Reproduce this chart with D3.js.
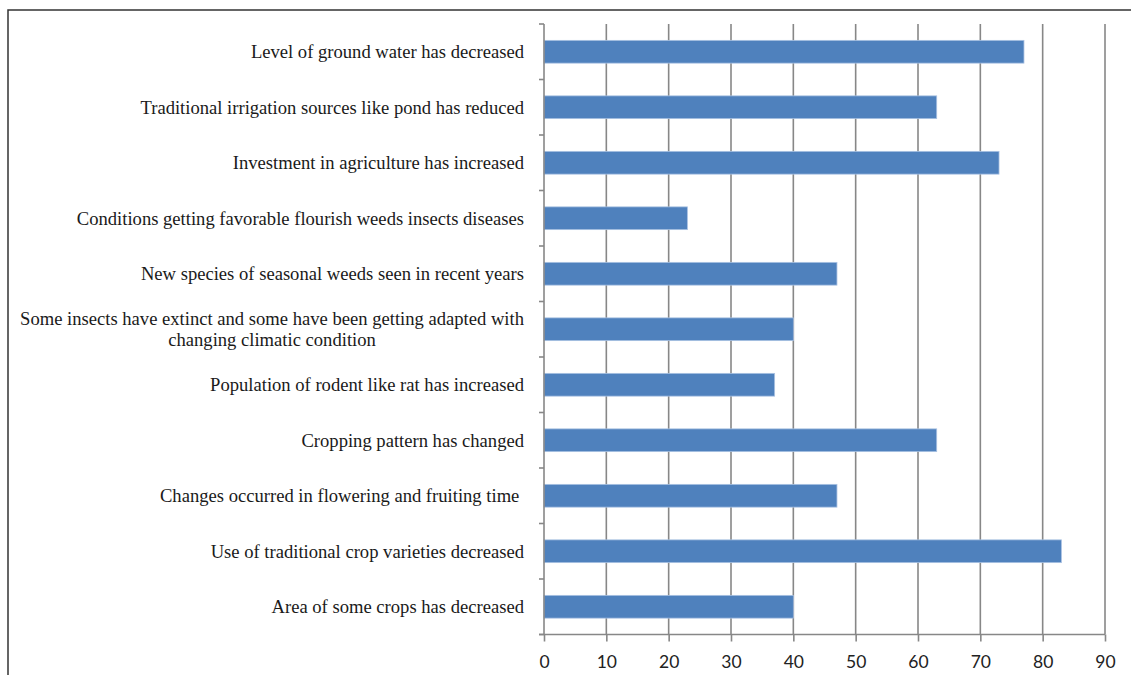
<!DOCTYPE html>
<html>
<head>
<meta charset="utf-8">
<script src="https://cdn.jsdelivr.net/npm/d3@7"></script>
<style>
  html, body { margin: 0; padding: 0; background: #fff; }
  svg { display: block; }
  .cat text { font-family: "Liberation Serif", "Times New Roman", serif; font-size: 18.6px; fill: #1a1a1a; white-space: pre; }
  .xaxis text { font-family: Lato, "Open Sans", sans-serif; font-size: 17.5px; fill: #222; }
</style>
</head>
<body>
<svg id="chart" width="1131" height="675"></svg>
<script>
// Perceived changes reported by respondents (percent)
const categories = [
  "Level of ground water has decreased",
  "Traditional irrigation sources like pond has reduced",
  "Investment in agriculture has increased",
  "Conditions getting favorable flourish weeds insects diseases",
  "New species of seasonal weeds seen in recent years",
  "Some insects have extinct and some have been getting adapted with\nchanging climatic condition",
  "Population of rodent like rat has increased",
  "Cropping pattern has changed",
  "Changes occurred in flowering and fruiting time ",
  "Use of traditional crop varieties decreased",
  "Area of some crops has decreased"
];
const values = [77, 63, 73, 23, 47, 40, 37, 63, 47, 83, 40];
const xTicks = [0, 10, 20, 30, 40, 50, 60, 70, 80, 90];

const svg = d3.select("#chart");
const plotLeft = 544, plotRight = 1105, plotTop = 24, plotBottom = 634.5;
const gridColor = "#878787";

// outer frame
svg.append("path")
  .attr("d", `M8,680 L8,10 L1140,10`)
  .attr("fill", "none")
  .attr("stroke", "#333")
  .attr("stroke-width", 1.5);

const x = d3.scaleLinear().domain([0, 90]).range([plotLeft, plotRight]);
const y = d3.scaleBand().domain(categories).range([plotTop, plotBottom]).paddingInner(0.59).paddingOuter(0.295);
const yTicks = d3.scaleBand().domain(categories).range([plotTop, plotBottom]);

// vertical gridlines
svg.append("g")
  .selectAll("line")
  .data(xTicks.slice(1))
  .join("line")
  .attr("x1", d => x(d)).attr("x2", d => x(d))
  .attr("y1", plotTop).attr("y2", plotBottom)
  .attr("stroke", gridColor)
  .attr("stroke-width", 1.6);

// bars
svg.append("g")
  .selectAll("rect")
  .data(values)
  .join("rect")
  .attr("x", x(0))
  .attr("y", (d, i) => y(categories[i]))
  .attr("width", d => x(d) - x(0))
  .attr("height", y.bandwidth())
  .attr("fill", "#4f81bd")
  .attr("stroke", "#a9c1e2")
  .attr("stroke-width", 0.8);

// y axis line with outward ticks at band boundaries
const ya = svg.append("g");
ya.append("line")
  .attr("x1", plotLeft).attr("x2", plotLeft)
  .attr("y1", plotTop).attr("y2", plotBottom)
  .attr("stroke", gridColor).attr("stroke-width", 1.6);
ya.selectAll("line.t")
  .data(categories.map(c => yTicks(c)).concat([plotBottom]))
  .join("line")
  .attr("class", "t")
  .attr("x1", plotLeft - 5).attr("x2", plotLeft)
  .attr("y1", d => d).attr("y2", d => d)
  .attr("stroke", gridColor).attr("stroke-width", 1.6);

// category labels
const cat = svg.append("g").attr("class", "cat");
categories.forEach((c) => {
  const lines = c.split("\n");
  const cy = yTicks(c) + yTicks.bandwidth() / 2;
  const lh = 21;
  if (lines.length === 1) {
    cat.append("text")
      .attr("x", plotLeft - 20)
      .attr("y", cy)
      .attr("dy", "0.36em")
      .attr("text-anchor", "end")
      .text(lines[0]);
  } else {
    // wrapped label: lines centred on each other, block right-aligned
    const t = cat.append("text").attr("text-anchor", "middle");
    const tmp = cat.append("text").text(lines[0]);
    const w = tmp.node().getComputedTextLength();
    tmp.remove();
    const cx = plotLeft - 20 - w / 2;
    lines.forEach((ln, k) => {
      t.append("tspan")
        .attr("x", cx)
        .attr("y", cy + (k - (lines.length - 1) / 2) * lh)
        .attr("dy", "0.36em")
        .text(ln);
    });
  }
});

// x axis
const xa = svg.append("g")
  .attr("class", "xaxis")
  .attr("transform", `translate(0,${plotBottom})`)
  .call(d3.axisBottom(x).tickValues(xTicks).tickSize(7).tickPadding(14.5).tickSizeOuter(0));
xa.select(".domain").attr("stroke", gridColor).attr("stroke-width", 1.6)
  .attr("d", `M${plotLeft - 5},0H${plotRight}`);
xa.selectAll(".tick line").attr("stroke", gridColor).attr("stroke-width", 1.6);
</script>
</body>
</html>
